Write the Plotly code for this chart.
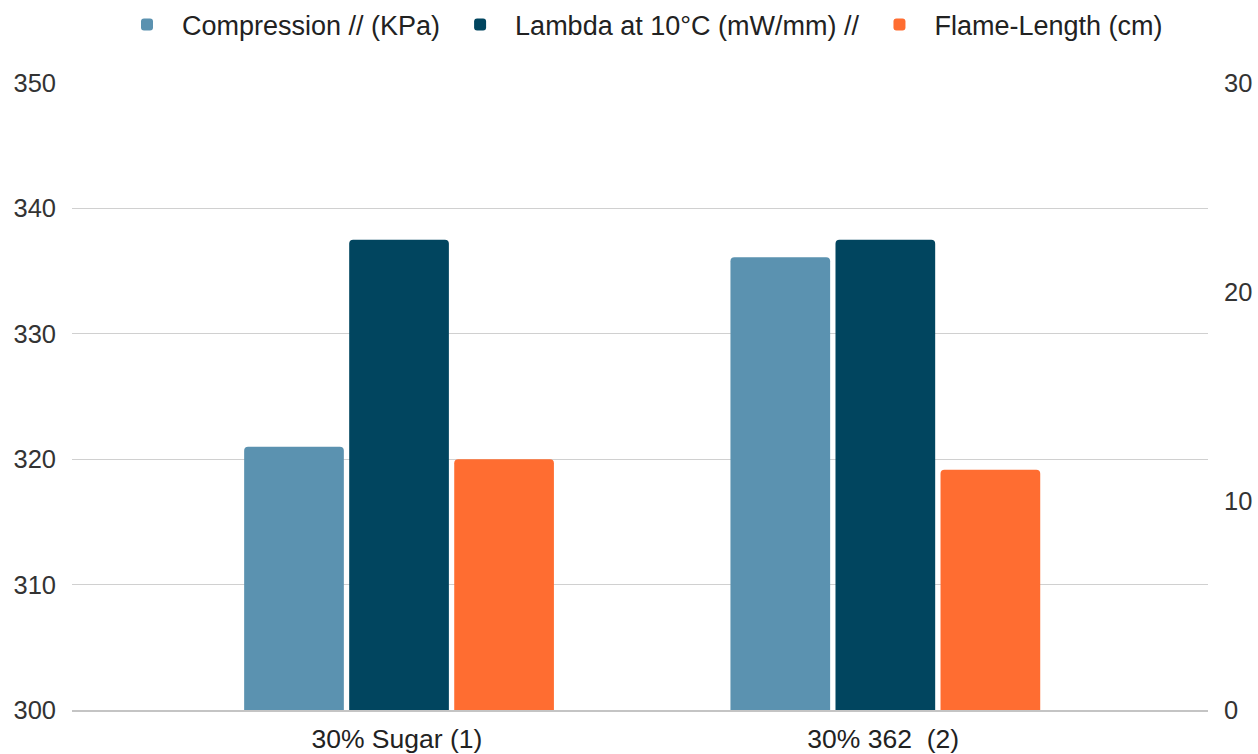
import plotly.graph_objects as go

categories = ["30% Sugar (1)", "30% 362  (2)"]
compression = [321.0, 336.1]
lambda_10c = [22.5, 22.5]
flame_length = [12.0, 11.5]

names = ["Compression // (KPa)", "Lambda at 10°C (mW/mm) //", "Flame-Length (cm)"]
colors = ["#5b92b0", "#01455f", "#ff6d31"]

fig = go.Figure()
bw = 0.205
offsets = [-0.314, -0.098, 0.118]
series = [(compression, "y"), (lambda_10c, "y2"), (flame_length, "y2")]
for (vals, ax), name, col, off in zip(series, names, colors, offsets):
    fig.add_trace(go.Bar(
        x=categories, y=vals, name=name, yaxis=ax,
        marker=dict(color=col, cornerradius=4, line=dict(width=0)),
        width=bw, offset=off,
    ))

font = "Liberation Sans, Arial, sans-serif"
fig.update_layout(
    width=1258, height=754,
    margin=dict(l=72, r=50, t=83, b=44, autoexpand=False),
    paper_bgcolor="white", plot_bgcolor="white",
    font=dict(family=font, size=26, color="#222222"),
    barmode="overlay",
    showlegend=True,
    legend=dict(orientation="h", x=0.5, xanchor="center", y=1 - 25 / 754, yanchor="middle",
                yref="container", font=dict(size=27, color="#222222"),
                itemwidth=60, tracegroupgap=0),
    xaxis=dict(range=[-0.668, 1.668], showgrid=False, showline=True,
               linecolor="#c4c4c4", linewidth=2, ticks="", ticklabelstandoff=4,
               tickfont=dict(size=26.5)),
    yaxis=dict(range=[300, 350], dtick=10, tick0=300, showgrid=True, gridcolor="#d0d0d0",
               gridwidth=1, zeroline=False, ticks="", ticklabelstandoff=15,
               tickfont=dict(size=25.5, color="#333333")),
    yaxis2=dict(range=[0, 30], dtick=10, tick0=0, overlaying="y", side="right",
                showgrid=False, zeroline=False, ticks="", ticklabelstandoff=15,
                tickfont=dict(size=25.5, color="#333333")),
)

# remove the page's default body margin so the 1258x754 figure fills the window exactly
fig.write_html(
    "out.html",
    config={"displayModeBar": False},
    post_script="document.body.style.margin='0';document.body.style.overflow='hidden';",
)
